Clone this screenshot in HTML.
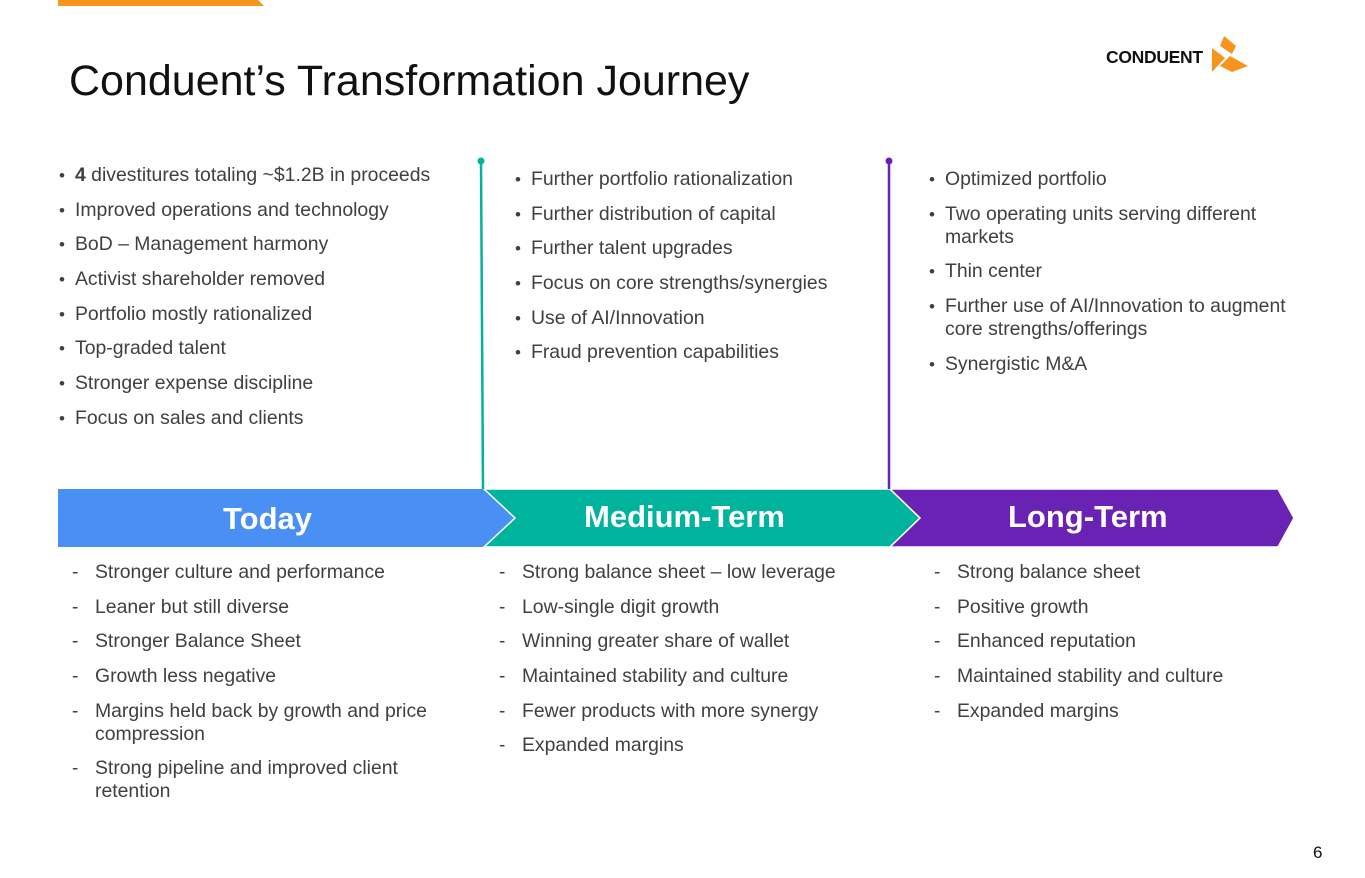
<!DOCTYPE html>
<html><head><meta charset="utf-8"><style>
body{margin:0;width:1365px;height:878px;background:#fff;position:relative;overflow:hidden;font-family:"Liberation Sans",Arial,sans-serif;color:#404040}
.t{position:absolute;font-size:19.4px;line-height:23px}
.t div{position:relative;padding-left:16px;margin-bottom:11.7px}
.t div:before{content:"•";position:absolute;left:0;font-size:17px}
.d div{padding-left:37px}
.d div:before{content:"-";left:14px;font-size:19px}
h1{position:absolute;left:69px;top:57px;margin:0;font-weight:normal;font-size:43px;color:#111}
.lab{position:absolute;color:#fff;font-weight:bold;font-size:31px;top:501px}
</style></head><body>
<svg width="1365" height="878" style="position:absolute;left:0;top:0">
<polygon points="58,0 258,0 264,6 58,6" fill="#f7941d"/>
<polygon points="58,489 484,489 515,518 484,547 58,547" fill="#4a8ff3"/>
<polygon points="484,489 890,489 920,518 890,547 484,547 515,518" fill="#00b39c" stroke="#fff" stroke-width="1.5"/>
<polygon points="890,489 1278,489 1294,518 1278,547 890,547 920,518" fill="#6a22b5" stroke="#fff" stroke-width="1.5"/>
<line x1="481" y1="161" x2="483" y2="489" stroke="#00b39c" stroke-width="2.5"/>
<circle cx="481" cy="161" r="3.5" fill="#00b39c"/>
<line x1="889" y1="161" x2="889" y2="489" stroke="#6a22b5" stroke-width="2.5"/>
<circle cx="889" cy="161" r="3.5" fill="#6a22b5"/>
<polygon points="1224,36 1236,46 1232,54 1220,46" fill="#f7941d"/>
<polygon points="1212,48 1225,58 1212,72" fill="#f7941d"/>
<polygon points="1230,56 1248,66 1232,72 1220,66" fill="#f7941d"/>
</svg>
<div style="position:absolute;left:1106px;top:47px;font-weight:bold;font-size:17.5px;color:#111;letter-spacing:-0.3px">CONDUENT</div>
<h1>Conduent’s Transformation Journey</h1>
<div class="lab" style="left:223px">Today</div>
<div class="lab" style="left:584px;top:499px">Medium-Term</div>
<div class="lab" style="left:1008px;top:499px">Long-Term</div>
<div class="t" style="left:59px;top:164px;width:400px">
<div><b>4</b> divestitures totaling ~$1.2B in proceeds</div><div>Improved operations and technology</div><div>BoD – Management harmony</div><div>Activist shareholder removed</div><div>Portfolio mostly rationalized</div><div>Top-graded talent</div><div>Stronger expense discipline</div><div>Focus on sales and clients</div></div>
<div class="t" style="left:515px;top:168px;width:360px">
<div>Further portfolio rationalization</div><div>Further distribution of capital</div><div>Further talent upgrades</div><div>Focus on core strengths/synergies</div><div>Use of AI/Innovation</div><div>Fraud prevention capabilities</div></div>
<div class="t" style="left:929px;top:168px;width:370px">
<div>Optimized portfolio</div><div>Two operating units serving different markets</div><div>Thin center</div><div>Further use of AI/Innovation to augment core strengths/offerings</div><div>Synergistic M&amp;A</div></div>
<div class="t d" style="left:58px;top:561px;width:400px">
<div>Stronger culture and performance</div><div>Leaner but still diverse</div><div>Stronger Balance Sheet</div><div>Growth less negative</div><div>Margins held back by growth and price compression</div><div>Strong pipeline and improved client retention</div></div>
<div class="t d" style="left:485px;top:561px;width:400px">
<div>Strong balance sheet – low leverage</div><div>Low-single digit growth</div><div>Winning greater share of wallet</div><div>Maintained stability and culture</div><div>Fewer products with more synergy</div><div>Expanded margins</div></div>
<div class="t d" style="left:920px;top:561px;width:400px">
<div>Strong balance sheet</div><div>Positive growth</div><div>Enhanced reputation</div><div>Maintained stability and culture</div><div>Expanded margins</div></div>
<div style="position:absolute;left:1313px;top:843px;font-size:17px;color:#111">6</div>
</body></html>
